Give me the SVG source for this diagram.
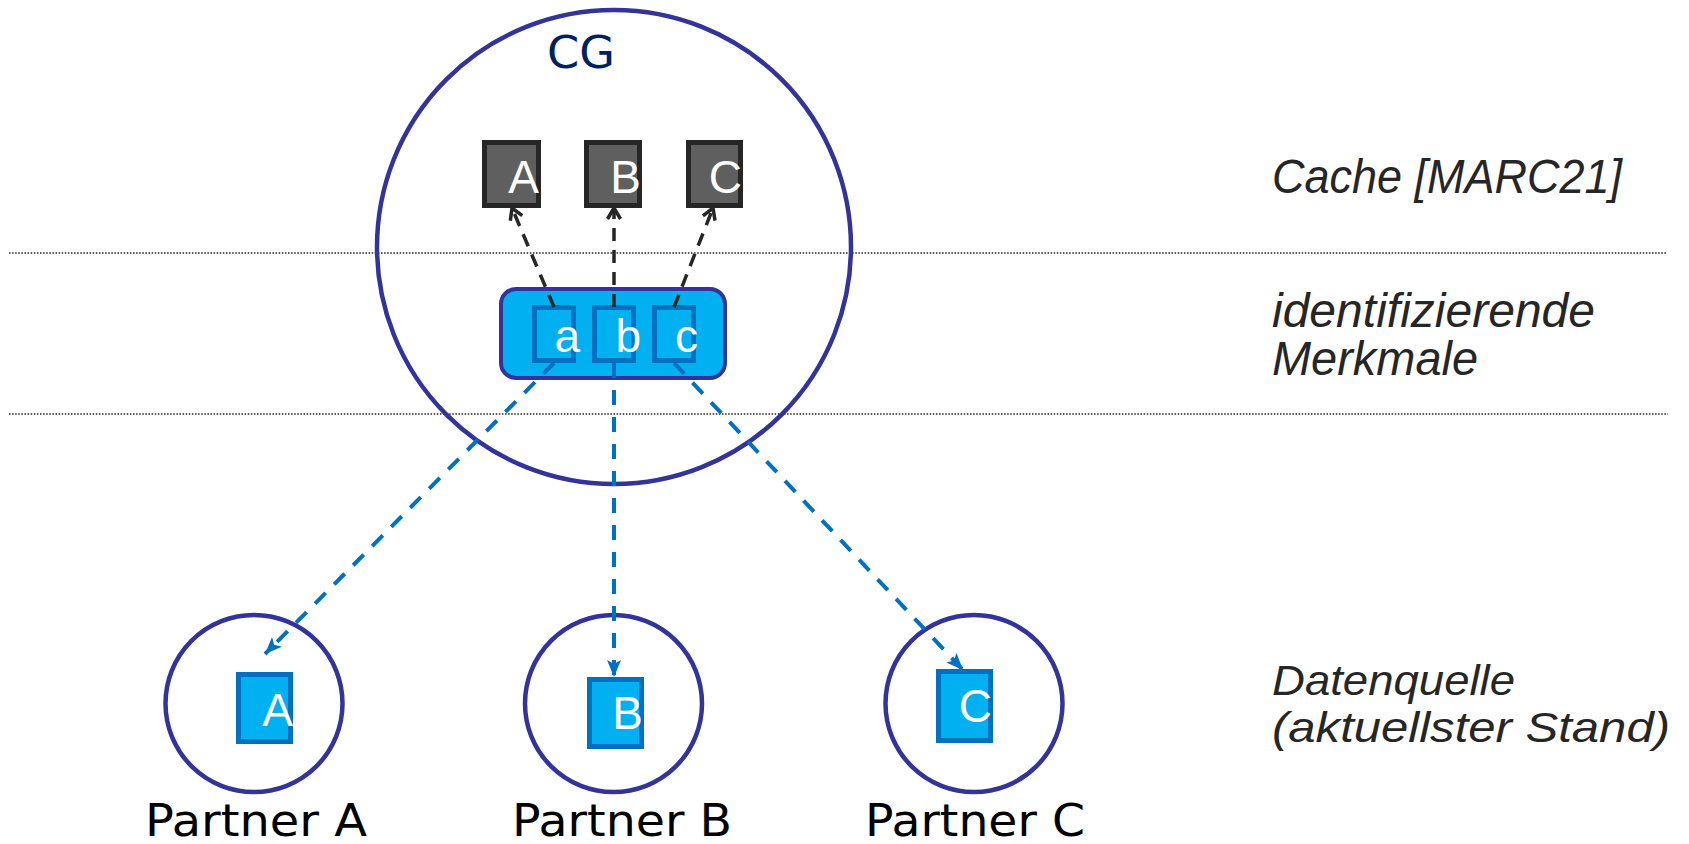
<svg xmlns="http://www.w3.org/2000/svg" width="1689" height="844" viewBox="0 0 1689 844">
  <defs>
    <style>
      .ring { fill: none; stroke: #333399; stroke-width: 4.5; }
      .dark { fill: #5f5f5f; stroke: #262626; stroke-width: 5; }
      .blue { fill: #00b0f0; stroke: #0070c0; stroke-width: 5; }
      .glyph { font-family: "Liberation Sans", Arial, sans-serif; font-size: 46px; fill: #ffffff; text-anchor: end; }
      .plabel { font-family: "DejaVu Sans", Verdana, sans-serif; font-size: 45px; fill: #000000; }
      .side { font-family: "Liberation Sans", Arial, sans-serif; font-style: italic; font-size: 48px; fill: #262626; }
      .side2 { font-family: "Liberation Sans", Arial, sans-serif; font-style: italic; font-size: 42px; fill: #262626; }
      .dot { stroke: #222222; stroke-width: 1.5; stroke-dasharray: 1.5 1.6; fill: none; }
      .darkcon { stroke: #262626; stroke-width: 3.5; stroke-dasharray: 13 9; fill: none; }
      .bluecon { stroke: #0070c0; stroke-width: 4; stroke-dasharray: 15 12; fill: none; }
    </style>
    <marker id="openArrow" markerUnits="userSpaceOnUse" markerWidth="18" markerHeight="18" refX="13" refY="8" orient="auto">
      <path d="M2,1.5 L13,8 L2,14.5" fill="none" stroke="#262626" stroke-width="3.5"/>
    </marker>
    <marker id="blueArrow" markerUnits="userSpaceOnUse" markerWidth="20" markerHeight="16" refX="17" refY="7" orient="auto">
      <path d="M0,0 L17,7 L0,14 L4,7 Z" fill="#0070c0"/>
    </marker>
  </defs>
  <rect width="1689" height="844" fill="#ffffff"/>

  <g id="layers">
    <line class="dot" x1="9" y1="253" x2="1667" y2="253"/>
    <line class="dot" x1="9" y1="414" x2="1668" y2="414"/>
  </g>

  <g id="cg">
    <circle class="ring" cx="614" cy="247" r="237"/>
    <text x="547" y="68" font-family="DejaVu Sans, Verdana, sans-serif" font-size="45" fill="#002060" textLength="68" lengthAdjust="spacingAndGlyphs">CG</text>
  </g>

  <g id="cache-A">
    <rect class="dark" x="484.5" y="142.5" width="54" height="63"/>
    <text class="glyph" x="539" y="193">A</text>
  </g>
  <g id="cache-B">
    <rect class="dark" x="586.5" y="142.5" width="53" height="63"/>
    <text class="glyph" x="641" y="193">B</text>
  </g>
  <g id="cache-C">
    <rect class="dark" x="688.5" y="142.5" width="52" height="63"/>
    <text class="glyph" x="742" y="193">C</text>
  </g>

  <g id="merkmale">
    <rect x="501" y="289" width="224" height="89" rx="15" ry="15" fill="#00b0f0" stroke="#333399" stroke-width="4"/>
    <rect class="blue" x="534.5" y="307.5" width="39" height="53"/>
    <rect class="blue" x="594.5" y="307.5" width="39" height="53"/>
    <rect class="blue" x="654.5" y="307.5" width="39" height="53"/>
    <text class="glyph" x="580" y="352">a</text>
    <text class="glyph" x="641" y="352">b</text>
    <text class="glyph" x="698" y="352">c</text>
  </g>

  <g id="partner-A">
    <circle class="ring" cx="254" cy="703.5" r="88.5"/>
    <rect class="blue" x="238.5" y="674.5" width="52" height="67"/>
    <text class="glyph" x="293" y="726">A</text>
    <text class="plabel" x="145" y="836" textLength="222" lengthAdjust="spacingAndGlyphs">Partner A</text>
  </g>
  <g id="partner-B">
    <circle class="ring" cx="613.5" cy="703.5" r="88.5"/>
    <rect class="blue" x="589.5" y="679.5" width="52" height="67"/>
    <text class="glyph" x="643" y="729">B</text>
    <text class="plabel" x="512" y="836" textLength="220" lengthAdjust="spacingAndGlyphs">Partner B</text>
  </g>
  <g id="partner-C">
    <circle class="ring" cx="974" cy="703.5" r="88.5"/>
    <rect class="blue" x="938.5" y="671.5" width="52" height="69"/>
    <text class="glyph" x="992" y="722">C</text>
    <text class="plabel" x="865" y="836" textLength="220" lengthAdjust="spacingAndGlyphs">Partner C</text>
  </g>

  <g id="labels">
    <text class="side" x="1272" y="193" textLength="350" lengthAdjust="spacingAndGlyphs">Cache [MARC21]</text>
    <text class="side" x="1272" y="327" textLength="323" lengthAdjust="spacingAndGlyphs">identifizierende</text>
    <text class="side" x="1272" y="375" textLength="206" lengthAdjust="spacingAndGlyphs">Merkmale</text>
    <text class="side2" x="1272" y="695" textLength="243" lengthAdjust="spacingAndGlyphs">Datenquelle</text>
    <text class="side2" x="1272" y="742" textLength="398" lengthAdjust="spacingAndGlyphs">(aktuellster Stand)</text>
  </g>

  <g id="connectors">
    <line class="darkcon" x1="554" y1="307" x2="512" y2="208" marker-end="url(#openArrow)"/>
    <line class="darkcon" x1="614" y1="307" x2="614" y2="208" marker-end="url(#openArrow)"/>
    <line class="darkcon" x1="674" y1="307" x2="713" y2="208" marker-end="url(#openArrow)"/>
    <line class="bluecon" x1="554" y1="363" x2="265" y2="654" marker-end="url(#blueArrow)"/>
    <line class="bluecon" x1="614" y1="363" x2="614" y2="677" marker-end="url(#blueArrow)"/>
    <line class="bluecon" x1="674" y1="363" x2="963" y2="670" marker-end="url(#blueArrow)"/>
  </g>
</svg>
